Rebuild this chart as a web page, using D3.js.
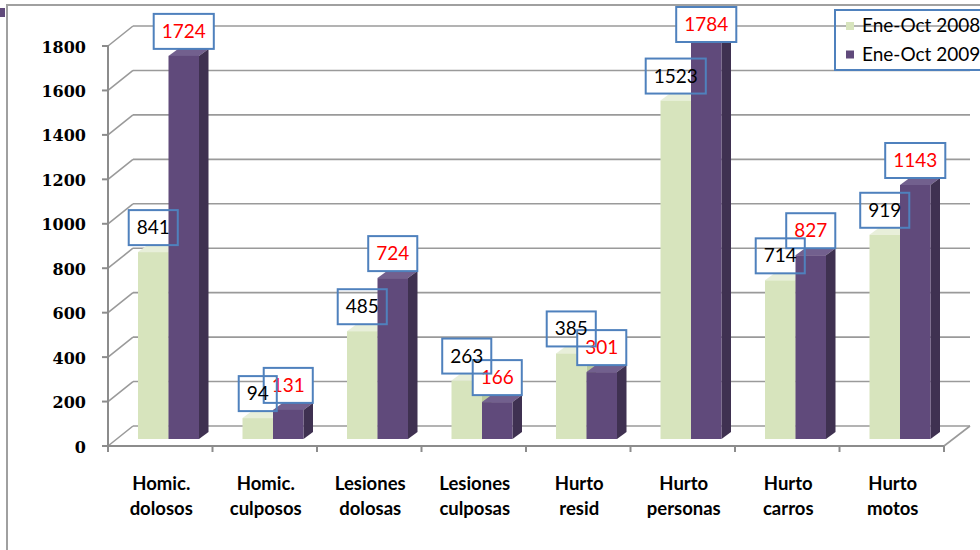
<!DOCTYPE html>
<html>
<head>
<meta charset="utf-8">
<script src="https://cdn.jsdelivr.net/npm/d3@7"></script>
<style>
  html, body { margin: 0; padding: 0; background: #fff; }
  svg { display: block; }
</style>
</head>
<body>
<svg id="chart" width="980" height="550"></svg>
<script>
// ---- data ----
const categories = [
  ["Homic.", "dolosos"],
  ["Homic.", "culposos"],
  ["Lesiones", "dolosas"],
  ["Lesiones", "culposas"],
  ["Hurto", "resid"],
  ["Hurto", "personas"],
  ["Hurto", "carros"],
  ["Hurto", "motos"]
];
const seriesNames = ["Ene-Oct 2008", "Ene-Oct 2009"];
const values2008 = [841, 94, 485, 263, 385, 1523, 714, 919];
const values2009 = [1724, 131, 724, 166, 301, 1784, 827, 1143];
const yTicks = [0, 200, 400, 600, 800, 1000, 1200, 1400, 1600, 1800];

// ---- styles ----
const colors = {
  s0: { front: "#D7E4BD", top: "#E8EFDA", side: "#BCCB9E" },
  s1: { front: "#604A7B", top: "#72608E", side: "#3F3151" }
};
const labelColors = ["#000000", "#FF0000"];
const gridColor = "#9A9A9A";
const axisColor = "#8C8C8C";
const boxColor = "#4F81BD";

const svg = d3.select("#chart");

// frame
svg.append("rect").attr("x", 7).attr("y", 5).attr("width", 1000).attr("height", 600)
  .attr("fill", "none").attr("stroke", "#A0A0A0").attr("stroke-width", 2);
svg.append("rect").attr("x", 0).attr("y", 8).attr("width", 5).attr("height", 9)
  .attr("fill", "#604A7B");

// ---- scales ----
const catIds = categories.map((d, i) => i);
const x = d3.scaleBand().domain(catIds).range([108, 944]).padding(0);
const xInner = d3.scaleBand().domain([0, 1]).range([30, 91]).padding(0);
const y = d3.scaleLinear().domain([0, 1800]).range([446, 46]);

// 3D geometry
const depthX = 25, depthY = -20;
const barOffY = -7;
const barDX = 9.5, barDY = -7;
const plotRight = 970;

const grid = svg.append("g");
yTicks.forEach(v => {
  const yy = y(v);
  grid.append("line")
    .attr("x1", x.range()[0]).attr("y1", yy)
    .attr("x2", x.range()[0] + depthX).attr("y2", yy + depthY)
    .attr("stroke", gridColor).attr("stroke-width", 1.6);
  grid.append("line")
    .attr("x1", x.range()[0] + depthX).attr("y1", yy + depthY)
    .attr("x2", plotRight).attr("y2", yy + depthY)
    .attr("stroke", gridColor).attr("stroke-width", 1.6);
});
grid.append("line")
  .attr("x1", plotRight).attr("y1", y(0) + depthY)
  .attr("x2", x.range()[1]).attr("y2", y(0))
  .attr("stroke", gridColor).attr("stroke-width", 1.6);

// axes
const axG = svg.append("g");
axG.append("line").attr("x1", x.range()[0]).attr("x2", x.range()[0])
  .attr("y1", y(1800) - 1).attr("y2", y(0))
  .attr("stroke", axisColor).attr("stroke-width", 2);
axG.append("line").attr("x1", x.range()[0]).attr("x2", x.range()[1])
  .attr("y1", y(0)).attr("y2", y(0))
  .attr("stroke", axisColor).attr("stroke-width", 2);
yTicks.forEach(v => {
  axG.append("line").attr("x1", x.range()[0] - 6).attr("x2", x.range()[0])
    .attr("y1", y(v)).attr("y2", y(v))
    .attr("stroke", axisColor).attr("stroke-width", 2);
  axG.append("text").attr("x", 86).attr("y", y(v) + 6.5)
    .attr("text-anchor", "end")
    .attr("font-family", "'DejaVu Serif', serif").attr("font-weight", "bold")
    .attr("font-size", 16).attr("fill", "#000").text(v);
});
d3.range(categories.length + 1).forEach(i => {
  const xx = x.range()[0] + i * x.bandwidth();
  axG.append("line").attr("x1", xx).attr("x2", xx)
    .attr("y1", y(0)).attr("y2", y(0) + 6)
    .attr("stroke", axisColor).attr("stroke-width", 2);
});
categories.forEach((c, i) => {
  const t = axG.append("text")
    .attr("text-anchor", "middle")
    .attr("font-family", "Lato, 'Open Sans', sans-serif").attr("font-weight", "bold")
    .attr("font-size", 18.5).attr("fill", "#000");
  c.forEach((line, j) => {
    t.append("tspan").attr("x", x(i) + x.bandwidth() / 2 + 1)
      .attr("y", 490 + j * 25).text(line);
  });
});

// bars
const barsG = svg.append("g");
const allSeries = [values2008, values2009];
function drawBar(g, bx, v, col) {
  const w = xInner.bandwidth();
  const top = y(v) + barOffY;
  const base = y(0) + barOffY;
  g.append("polygon")
    .attr("points", [[bx, top], [bx + w, top], [bx + w + barDX, top + barDY], [bx + barDX, top + barDY]].join(" "))
    .attr("fill", col.top);
  g.append("polygon")
    .attr("points", [[bx + w, top], [bx + w + barDX, top + barDY], [bx + w + barDX, base + barDY], [bx + w, base]].join(" "))
    .attr("fill", col.side);
  g.append("rect").attr("x", bx).attr("y", top).attr("width", w).attr("height", base - top)
    .attr("fill", col.front);
}
categories.forEach((c, i) => {
  allSeries.forEach((vals, s) => {
    drawBar(barsG, x(i) + xInner(s), vals[i], colors["s" + s]);
  });
});

// data labels: 2009 (white boxes) first, then 2008 (transparent)
const labG = svg.append("g");
const boxH = 35;
[1, 0].forEach(s => {
  const vals = allSeries[s];
  vals.forEach((v, i) => {
    const cx = x(i) + xInner(s) + xInner.bandwidth() / 2;
    const barTop = y(v) + barOffY;
    const boxTop = Math.max(7, barTop - 7 - boxH);
    const g = labG.append("g");
    const rect = g.append("rect");
    const txt = g.append("text").attr("x", cx).attr("y", boxTop + 24)
      .attr("text-anchor", "middle")
      .attr("font-family", "Lato, 'Open Sans', sans-serif")
      .attr("font-size", 19).attr("fill", labelColors[s]).text(v);
    const tw = txt.node().getComputedTextLength();
    const bw = tw + 16;
    rect.attr("x", cx - bw / 2).attr("y", boxTop).attr("width", bw).attr("height", boxH)
      .attr("fill", s === 1 ? "#fff" : "none")
      .attr("stroke", boxColor).attr("stroke-width", 2);
  });
});

// legend
const leg = svg.append("g");
leg.append("rect").attr("x", 835).attr("y", 10).attr("width", 200).attr("height", 60)
  .attr("fill", "none").attr("stroke", boxColor).attr("stroke-width", 2);
seriesNames.forEach((n, s) => {
  leg.append("rect").attr("x", 846).attr("y", 22 + s * 28.5).attr("width", 8).attr("height", 8)
    .attr("fill", colors["s" + s].front);
  leg.append("text").attr("x", 862).attr("y", 32 + s * 29)
    .attr("font-family", "Lato, 'Open Sans', sans-serif")
    .attr("font-size", 19).attr("fill", "#000").text(n);
});
</script>
</body>
</html>
